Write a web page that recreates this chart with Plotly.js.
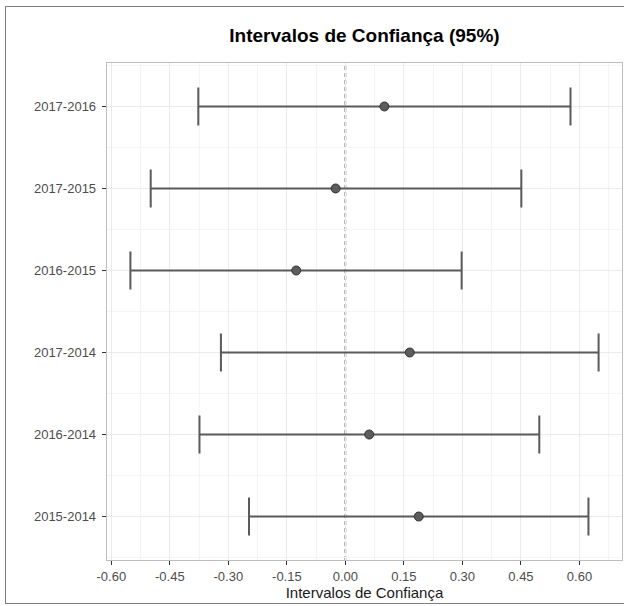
<!DOCTYPE html>
<html>
<head>
<meta charset="utf-8">
<script src="https://cdn.plot.ly/plotly-3.0.1.min.js"></script>
<style>
  html, body { margin: 0; padding: 0; background: #fff; }
  #wrap { position: relative; width: 624px; height: 606px; overflow: hidden; }
  #chart { width: 624px; height: 606px; }
  #frame {
    position: absolute; left: 5px; top: 6px; width: 660px; height: 598px;
    border: 1.5px solid #7f7f7f; box-sizing: border-box; pointer-events: none;
  }
</style>
</head>
<body>
<div id="wrap">
  <div id="chart"></div>
  <div id="frame"></div>
</div>
<script>
// Pairwise comparisons, listed top to bottom
const categories = ['2017-2016', '2017-2015', '2016-2015', '2017-2014', '2016-2014', '2015-2014'];
// Point estimates and 95% interval bounds
const estimate = [0.100, -0.025, -0.126, 0.165, 0.061, 0.188];
const lower    = [-0.377, -0.499, -0.551, -0.319, -0.374, -0.247];
const upper    = [0.577, 0.451, 0.298, 0.649, 0.497, 0.623];
// X axis ticks
const xTickVals   = [-0.60, -0.45, -0.30, -0.15, 0.00, 0.15, 0.30, 0.45, 0.60];
const xTickLabels = ['-0.60', '-0.45', '-0.30', '-0.15', '0.00', '0.15', '0.30', '0.45', '0.60'];
// Reference line (no difference)
const refValue = 0;

const n = categories.length;
const yPos = categories.map((c, i) => n - 1 - i);

const font = 'Liberation Sans, Arial, Helvetica, sans-serif';

const trace = {
  type: 'scatter',
  mode: 'markers',
  x: estimate,
  y: yPos,
  error_x: {
    type: 'data',
    symmetric: false,
    array: upper.map((u, i) => u - estimate[i]),
    arrayminus: lower.map((l, i) => estimate[i] - l),
    color: '#5a5a5a',
    thickness: 2,
    width: 19
  },
  marker: { size: 9, color: '#5c5c5c', line: { color: '#333333', width: 1 } },
  hoverinfo: 'skip'
};

const layout = {
  width: 624,
  height: 606,
  margin: { l: 107, r: 2, t: 63, b: 46 },
  paper_bgcolor: '#ffffff',
  plot_bgcolor: '#ffffff',
  showlegend: false,
  font: { family: font },
  title: {
    text: 'Intervalos de Confiança (95%)',
    font: { family: font, size: 19, color: '#000000', weight: 'bold' },
    x: 0.5, xref: 'paper',
    y: 1 - 35 / 606, yref: 'container', yanchor: 'middle'
  },
  xaxis: {
    range: [-0.611, 0.709],
    tickmode: 'array',
    tickvals: xTickVals,
    ticktext: xTickLabels,
    ticks: 'outside', ticklen: 4, tickwidth: 1, tickcolor: '#333333',
    tickfont: { size: 13, color: '#4d4d4d' },
    showgrid: true, gridcolor: '#ebebeb', gridwidth: 1,
    minor: { tickmode: 'linear', tick0: -0.6, dtick: 0.075, showgrid: true, gridcolor: '#f4f4f4', gridwidth: 1 },
    showline: true, linecolor: '#bdbdbd', linewidth: 1.3, mirror: true,
    zeroline: false,
    title: { text: 'Intervalos de Confiança', font: { size: 15, color: '#1a1a1a' }, standoff: 0 }
  },
  yaxis: {
    range: [-0.53, n - 1 + 0.53],
    tickmode: 'array',
    tickvals: yPos,
    ticktext: categories,
    ticks: 'outside', ticklen: 4, tickwidth: 1, tickcolor: '#333333',
    ticklabelstandoff: 3,
    tickfont: { size: 13, color: '#4d4d4d' },
    showgrid: true, gridcolor: '#ebebeb', gridwidth: 1,
    minor: { tickmode: 'linear', tick0: 0.5, dtick: 1, showgrid: true, gridcolor: '#f4f4f4', gridwidth: 1 },
    showline: true, linecolor: '#bdbdbd', linewidth: 1.3, mirror: true,
    zeroline: false
  },
  shapes: [{
    type: 'line', layer: 'between',
    xref: 'x', x0: refValue, x1: refValue,
    yref: 'paper', y0: 0, y1: 1,
    line: { color: '#555555', width: 1.6, dash: '4px,3px' }
  }]
};

Plotly.newPlot('chart', [trace], layout, { staticPlot: true, displayModeBar: false });
</script>
</body>
</html>
